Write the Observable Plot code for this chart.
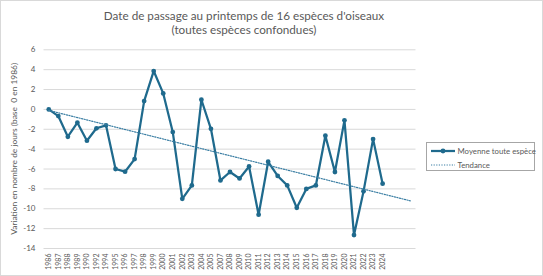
<!DOCTYPE html>
<html>
<head>
<meta charset="utf-8">
<script src="https://cdn.jsdelivr.net/npm/d3@7"></script>
<script src="https://cdn.jsdelivr.net/npm/@observablehq/plot@0.6"></script>
<style>
  html, body { margin: 0; padding: 0; background: #fff; }
  #wrap { position: relative; width: 543px; height: 276px; overflow: hidden; font-family: Lato, "Open Sans", sans-serif; color: #595959; }
  #frame { position: absolute; left: 0; top: 0; width: 541px; height: 274px; border: 1px solid #d9d9d9; pointer-events: none; }
  .title { position: absolute; left: 0; width: 488px; text-align: center; font-size: 11.7px; white-space: nowrap; }
  #chart { position: absolute; left: 0; top: 40px; }
  #legend { position: absolute; left: 425.5px; top: 142px; width: 109px; height: 29px; border: 1px solid #a6a6a6; box-sizing: border-box; font-size: 7.8px; }
  #legend .row { position: absolute; left: 4px; height: 10px; display: flex; align-items: center; white-space: nowrap; }
  #legend svg { margin-right: 3px; }
</style>
</head>
<body>
<div id="wrap">
  <div class="title" style="top:8px">Date de passage au printemps de 16 espèces d'oiseaux</div>
  <div class="title" style="top:22px">(toutes espèces confondues)</div>
  <div id="chart"></div>
  <div id="legend">
    <div class="row" style="top:3px">
      <svg width="24" height="8"><line x1="0" x2="24" y1="4" y2="4" stroke="#1f6a8d" stroke-width="2.25"/><circle cx="12" cy="4" r="2.4" fill="#1f6a8d"/></svg>
      <span>Moyenne toute espèce</span>
    </div>
    <div class="row" style="top:17px">
      <svg width="24" height="8"><line x1="0" x2="24" y1="4" y2="4" stroke="#3a7ea3" stroke-width="1.2" stroke-dasharray="1.2 1.4"/></svg>
      <span>Tendance</span>
    </div>
  </div>
  <div id="frame"></div>
</div>
<script>
const years = ["1986","1987","1988","1989","1990","1992","1994","1995","1996","1997","1998","1999","2000","2001","2002","2003","2004","2005","2007","2008","2009","2010","2011","2012","2013","2014","2015","2016","2017","2018","2019","2020","2021","2022","2023","2024"];
const values = [0, -0.67, -2.75, -1.34, -3.15, -1.9, -1.6, -6.0, -6.27, -5.0, 0.84, 3.86, 1.61, -2.28, -9.0, -7.65, 0.97, -1.95, -7.15, -6.3, -6.95, -5.74, -10.6, -5.27, -6.7, -7.65, -9.9, -8.0, -7.65, -2.65, -6.3, -1.1, -12.65, -8.25, -2.99, -7.48];
const trendPos = [0, 37.9];
const trendValues = [-0.1, -9.2];
const yTicks = [6, 4, 2, 0, -2, -4, -6, -8, -10, -12, -14];
const yLabel = "Variation en nombre de jours (base  0 en 1986)";

const lineColor = "#1f6a8d";
const trendColor = "#3a7ea3";

const data = values.map((v, i) => ({i, v}));
const trend = trendPos.map((p, k) => ({i: p, v: trendValues[k]}));

const chart = Plot.plot({
  width: 543,
  height: 236,
  marginTop: 9.3,
  marginBottom: 28,
  marginLeft: 43.5,
  marginRight: 127.5,
  style: {fontFamily: "Lato, 'Open Sans', sans-serif", color: "#595959", background: "transparent", overflow: "visible"},
  x: {domain: [-0.5, 38.5], axis: null},
  y: {domain: [-14, 6], axis: null},
  marks: [
    Plot.ruleY(yTicks, {stroke: "#d9d9d9", strokeWidth: 1}),
    Plot.axisY({ticks: yTicks, tickSize: 0, tickPadding: 8.5, fontSize: 8, label: null, tickFormat: d => d < 0 ? "-" + Math.abs(d) : String(d)}),
    Plot.axisX({ticks: d3.range(years.length), tickFormat: i => years[i], tickRotate: -90, tickSize: 0, tickPadding: 5, fontSize: 7, label: null}),
    Plot.line(data, {x: "i", y: "v", stroke: lineColor, strokeWidth: 2.25, strokeLinejoin: "round"}),
    Plot.dot(data, {x: "i", y: "v", r: 2.4, fill: lineColor, stroke: "none"}),
    Plot.line(trend, {x: "i", y: "v", stroke: trendColor, strokeWidth: 1.2, strokeDasharray: "1.2 1.4"})
  ]
});
// Y-axis title (rotated), centred on the plot frame
d3.select(chart).append("text")
  .attr("transform", "translate(17,108.8) rotate(-90)")
  .attr("text-anchor", "middle")
  .attr("font-size", 8.4)
  .attr("fill", "#595959")
  .attr("textLength", 172)
  .attr("lengthAdjust", "spacingAndGlyphs")
  .style("white-space", "pre")
  .text(yLabel);
document.getElementById("chart").appendChild(chart);
</script>
</body>
</html>
